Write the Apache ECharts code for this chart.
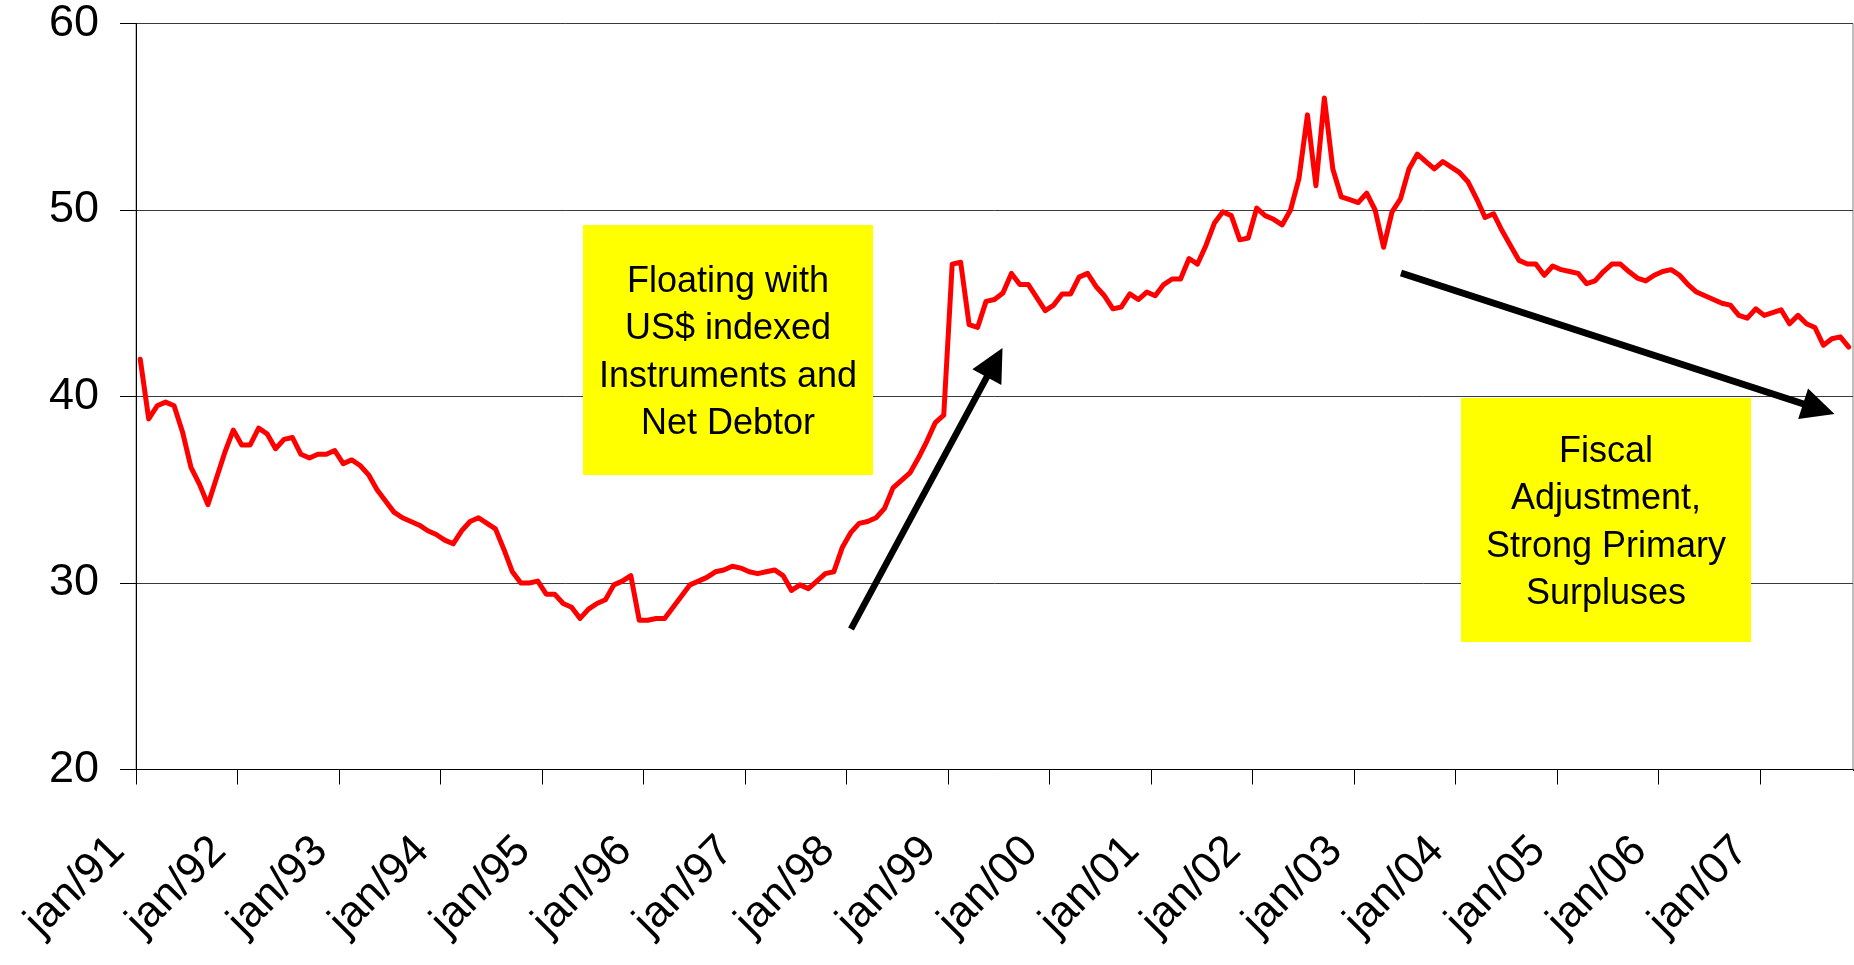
<!DOCTYPE html>
<html>
<head>
<meta charset="utf-8">
<title>Net public debt, % of GDP</title>
<script src="https://cdn.jsdelivr.net/npm/echarts@6/dist/echarts.min.js"></script>
<style>
  html, body { margin: 0; padding: 0; background: #ffffff; }
  #chart { width: 1854px; height: 965px; }
</style>
</head>
<body>
<div id="chart"></div>
<script>
// Month abbreviations and two-digit years used to build the monthly category axis
const monthNames = ['jan', 'fev', 'mar', 'abr', 'mai', 'jun', 'jul', 'ago', 'set', 'out', 'nov', 'dez'];
const yearLabels = ['91', '92', '93', '94', '95', '96', '97', '98', '99', '00', '01', '02', '03', '04', '05', '06', '07'];

// Monthly values, one array per year
const v1991 = [42.0, 38.8, 39.5, 39.7, 39.5, 38.1, 36.2, 35.3, 34.2, 35.6, 37.0, 38.2];
const v1992 = [37.4, 37.4, 38.3, 38.0, 37.2, 37.7, 37.8, 36.9, 36.7, 36.9, 36.9, 37.1];
const v1993 = [36.4, 36.6, 36.3, 35.8, 35.0, 34.4, 33.8, 33.5, 33.3, 33.1, 32.8, 32.6];
const v1994 = [32.3, 32.1, 32.8, 33.3, 33.5, 33.2, 32.9, 31.8, 30.6, 30.0, 30.0, 30.1];
const v1995 = [29.4, 29.4, 28.9, 28.7, 28.1, 28.6, 28.9, 29.1, 29.9, 30.1, 30.4, 28.0];
const v1996 = [28.0, 28.1, 28.1, 28.7, 29.3, 29.9, 30.1, 30.3, 30.6, 30.7, 30.9, 30.8];
const v1997 = [30.6, 30.5, 30.6, 30.7, 30.4, 29.6, 29.9, 29.7, 30.1, 30.5, 30.6, 31.9];
const v1998 = [32.7, 33.2, 33.3, 33.5, 34.0, 35.1, 35.5, 35.9, 36.7, 37.6, 38.6, 39.0];
const v1999 = [47.1, 47.2, 43.85, 43.7, 45.1, 45.2, 45.55, 46.6, 46.0, 46.0, 45.3, 44.6];
const v2000 = [44.9, 45.5, 45.5, 46.4, 46.6, 45.9, 45.4, 44.7, 44.8, 45.5, 45.2, 45.6];
const v2001 = [45.4, 46.0, 46.3, 46.3, 47.4, 47.1, 48.1, 49.3, 49.9, 49.7, 48.4, 48.5];
const v2002 = [50.1, 49.7, 49.5, 49.2, 50.0, 51.7, 55.1, 51.3, 56.0, 52.2, 50.7, 50.55];
const v2003 = [50.4, 50.9, 50.0, 48.0, 49.9, 50.6, 52.2, 53.0, 52.6, 52.2, 52.6, 52.3];
const v2004 = [52.0, 51.5, 50.6, 49.6, 49.8, 48.9, 48.1, 47.3, 47.1, 47.1, 46.5, 47.0];
const v2005 = [46.8, 46.7, 46.6, 46.05, 46.2, 46.7, 47.1, 47.1, 46.7, 46.35, 46.2, 46.5];
const v2006 = [46.7, 46.8, 46.5, 46.0, 45.6, 45.4, 45.2, 45.0, 44.9, 44.35, 44.2, 44.7];
const v2007 = [44.35, 44.5, 44.65, 43.9, 44.35, 43.9, 43.7, 42.75, 43.1, 43.2, 42.65];

// Value axis ticks
const yTicks = [20, 30, 40, 50, 60];

const values = [].concat(v1991, v1992, v1993, v1994, v1995, v1996, v1997, v1998,
  v1999, v2000, v2001, v2002, v2003, v2004, v2005, v2006, v2007);

const categories = [];
yearLabels.forEach(function (yy) {
  monthNames.forEach(function (m) { categories.push(m + '/' + yy); });
});
categories.length = values.length;

const FONT = '"Liberation Sans", Arial, Helvetica, sans-serif';

// Annotation boxes and arrows, in pixels
function arrow(tail, tip, headLen, headWidth, width) {
  const dx = tip[0] - tail[0], dy = tip[1] - tail[1];
  const len = Math.hypot(dx, dy);
  const ux = dx / len, uy = dy / len;
  const nx = -uy, ny = ux;
  const bx = tip[0] - ux * headLen, by = tip[1] - uy * headLen;
  return [
    {
      type: 'line', z: 100,
      shape: { x1: tail[0], y1: tail[1], x2: bx + ux * 3, y2: by + uy * 3 },
      style: { stroke: '#000000', lineWidth: width }
    },
    {
      type: 'polygon', z: 100,
      shape: { points: [tip, [bx + nx * headWidth / 2, by + ny * headWidth / 2], [bx - nx * headWidth / 2, by - ny * headWidth / 2]] },
      style: { fill: '#000000' }
    }
  ];
}

function noteBox(x, y, w, h, text) {
  return [
    { type: 'rect', z: 90, shape: { x: x, y: y, width: w, height: h }, style: { fill: '#ffff00' } },
    {
      type: 'text', z: 91,
      style: {
        x: x + w / 2, y: y + h / 2 + 3,
        text: text,
        fill: '#000000',
        fontSize: 36, fontFamily: FONT,
        lineHeight: 47.5,
        align: 'center', verticalAlign: 'middle',
        textAlign: 'center', textVerticalAlign: 'middle'
      }
    }
  ];
}

const graphics = [].concat(
  noteBox(583, 225, 290, 250, 'Floating with\nUS$ indexed\nInstruments and\nNet Debtor'),
  noteBox(1461, 398, 290, 244, 'Fiscal\nAdjustment,\nStrong Primary\nSurpluses'),
  arrow([851, 629], [1002.5, 348], 33, 33, 6.5),
  arrow([1401, 273], [1834.5, 414], 33, 32, 6.8),
  // the category axis always closes with a boundary tick; keep the right end plain
  [{ type: 'rect', z: 50, shape: { x: 1848, y: 771, width: 6, height: 20 }, style: { fill: '#ffffff' } }]
);

const chart = echarts.init(document.getElementById('chart'), null, { renderer: 'canvas' });

chart.setOption({
  animation: false,
  backgroundColor: '#ffffff',
  grid: {
    left: 136, right: 1, top: 23.5, bottom: 195.5,
    show: true, borderColor: '#808080', borderWidth: 1,
    outerBoundsMode: 'none'
  },
  xAxis: {
    type: 'category',
    data: categories,
    boundaryGap: true,
    axisLine: { lineStyle: { color: '#000000', width: 1 } },
    axisTick: { show: true, interval: 11, length: 15, lineStyle: { color: '#000000', width: 1 } },
    axisLabel: {
      interval: 11,
      rotate: 45,
      margin: 52,
      padding: [0, 32, 0, 0],
      color: '#000000',
      fontSize: 44,
      fontFamily: FONT
    },
    splitLine: { show: false }
  },
  yAxis: {
    type: 'value',
    min: yTicks[0],
    max: yTicks[yTicks.length - 1],
    interval: yTicks[1] - yTicks[0],
    axisLine: { show: true, lineStyle: { color: '#000000', width: 1 } },
    axisTick: { show: true, length: 16, lineStyle: { color: '#000000', width: 1 } },
    axisLabel: {
      margin: 37,
      color: '#000000',
      fontSize: 45,
      fontFamily: FONT,
      padding: [24, 0, 0, 0]
    },
    splitLine: { show: true, lineStyle: { color: '#3a3a3a', width: 1 } }
  },
  series: [{
    type: 'line',
    data: values,
    showSymbol: false,
    symbol: 'none',
    smooth: false,
    lineStyle: { color: '#ff0000', width: 5, join: 'round', cap: 'round' },
    z: 5
  }],
  graphic: graphics
});
</script>
</body>
</html>
